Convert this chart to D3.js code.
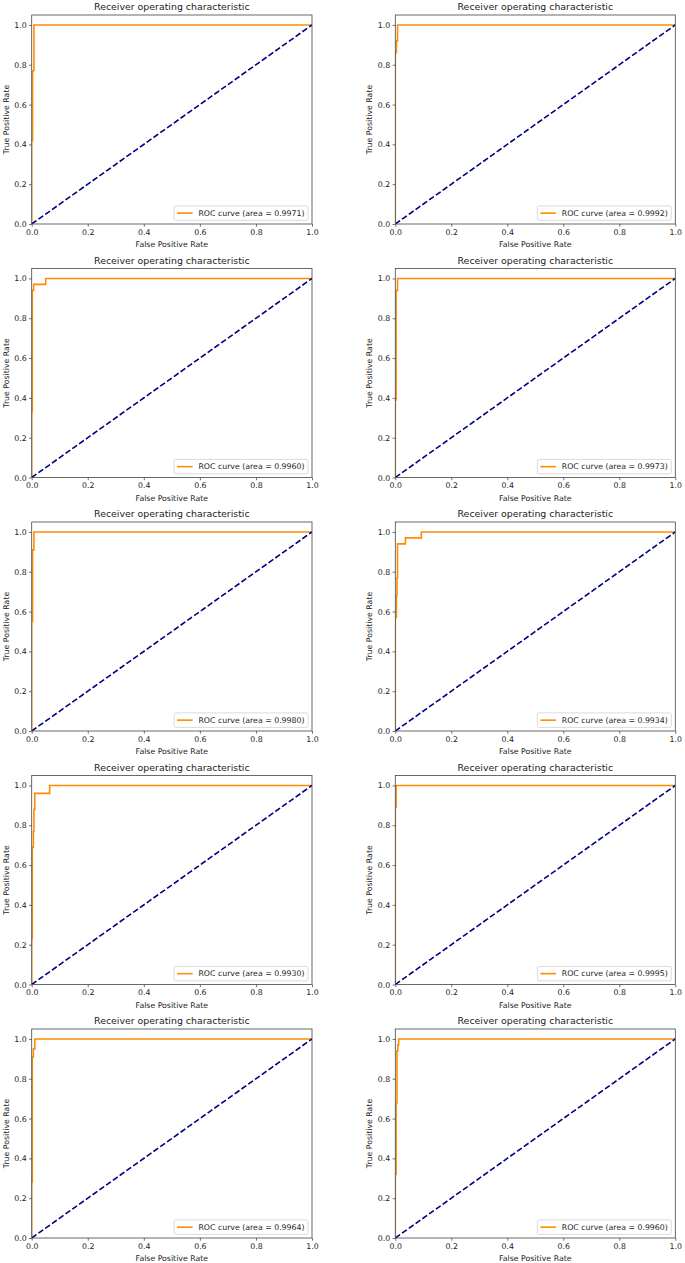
<!DOCTYPE html>
<html>
<head>
<meta charset="utf-8">
<script src="https://cdn.jsdelivr.net/npm/d3@7"></script>
<style>
  html, body { margin: 0; padding: 0; background: #fff; }
  svg { display: block; font-family: "DejaVu Sans", sans-serif; }
</style>
</head>
<body>
<svg id="chart" width="685" height="1263"></svg>
<script>
// ---- data ----
const titleText = "Receiver operating characteristic";
const xLabelText = "False Positive Rate";
const yLabelText = "True Positive Rate";
const tickValues = [0, 0.2, 0.4, 0.6, 0.8, 1.0];
const areas = ["0.9971", "0.9992", "0.9960", "0.9973", "0.9980", "0.9934", "0.9930", "0.9995", "0.9964", "0.9960"];

const fpr1 = [0, 0, 0.003, 0.003, 0.008, 0.008, 1];
const tpr1 = [0, 0.42, 0.42, 0.77, 0.77, 1, 1];
const fpr2 = [0, 0, 0.004, 0.004, 0.008, 0.008, 1];
const tpr2 = [0, 0.86, 0.86, 0.92, 0.92, 1, 1];
const fpr3 = [0, 0, 0.002, 0.002, 0.007, 0.007, 0.05, 0.05, 1];
const tpr3 = [0, 0.33, 0.33, 0.94, 0.94, 0.97, 0.97, 1, 1];
const fpr4 = [0, 0, 0.003, 0.003, 0.008, 0.008, 1];
const tpr4 = [0, 0.39, 0.39, 0.94, 0.94, 1, 1];
const fpr5 = [0, 0, 0.003, 0.003, 0.008, 0.008, 1];
const tpr5 = [0, 0.55, 0.55, 0.91, 0.91, 1, 1];
const fpr6 = [0, 0, 0.004, 0.004, 0.006, 0.006, 0.008, 0.008, 0.036, 0.036, 0.093, 0.093, 1];
const tpr6 = [0, 0.57, 0.57, 0.68, 0.68, 0.77, 0.77, 0.94, 0.94, 0.97, 0.97, 1, 1];
const fpr7 = [0, 0, 0.002, 0.002, 0.006, 0.006, 0.008, 0.008, 0.011, 0.011, 0.064, 0.064, 1];
const tpr7 = [0, 0.23, 0.23, 0.69, 0.69, 0.77, 0.77, 0.88, 0.88, 0.96, 0.96, 1, 1];
const fpr8 = [0, 0, 0.003, 0.003, 1];
const tpr8 = [0, 0.89, 0.89, 1, 1];
const fpr9 = [0, 0, 0.002, 0.002, 0.006, 0.006, 0.011, 0.011, 1];
const tpr9 = [0, 0.28, 0.28, 0.91, 0.91, 0.95, 0.95, 1, 1];
const fpr10 = [0, 0, 0.003, 0.003, 0.006, 0.006, 0.009, 0.009, 0.012, 0.012, 1];
const tpr10 = [0, 0.32, 0.32, 0.68, 0.68, 0.94, 0.94, 0.97, 0.97, 1, 1];

const fprList = [fpr1, fpr2, fpr3, fpr4, fpr5, fpr6, fpr7, fpr8, fpr9, fpr10];
const tprList = [tpr1, tpr2, tpr3, tpr4, tpr5, tpr6, tpr7, tpr8, tpr9, tpr10];
const diagonal = [[0, 0], [1, 1]];

// ---- layout ----
const svg = d3.select("#chart");
const colX = [[31.7, 312], [395.3, 675.3]];
const rowTop0 = 15, rowBottom0 = 224, rowStep = 253.5;
const tickFont = 7.8, titleFont = 9.4;

areas.forEach((area, i) => {
  const col = i % 2, row = Math.floor(i / 2);
  const [x0, x1] = colX[col];
  const top = rowTop0 + row * rowStep, bottom = rowBottom0 + row * rowStep;
  const x = d3.scaleLinear().domain([0, 1]).range([x0, x1]);
  const y = d3.scaleLinear().domain([0, 1.05]).range([bottom, top]);

  const g = svg.append("g");
  const clipId = "clip" + i;
  g.append("clipPath").attr("id", clipId).append("rect")
    .attr("x", x0).attr("y", top).attr("width", x1 - x0).attr("height", bottom - top);

  const line = d3.line().x(d => x(d[0])).y(d => y(d[1]));
  const pts = fprList[i].map((f, k) => [f, tprList[i][k]]);

  const plot = g.append("g").attr("clip-path", `url(#${clipId})`);
  plot.append("path").attr("d", line(pts))
    .attr("fill", "none").attr("stroke", "#ff8c00").attr("stroke-width", 1.6)
    .attr("stroke-linejoin", "miter");
  plot.append("path").attr("d", line(diagonal))
    .attr("fill", "none").attr("stroke", "#000080").attr("stroke-width", 1.6)
    .attr("stroke-dasharray", "5.8,2.5");

  // axes
  const xAxis = d3.axisBottom(x).tickValues(tickValues).tickFormat(d3.format(".1f"))
    .tickSize(2.7).tickPadding(2.4);
  const yAxis = d3.axisLeft(y).tickValues(tickValues).tickFormat(d3.format(".1f"))
    .tickSize(2.7).tickPadding(2.4);
  const gx = g.append("g").attr("transform", `translate(0,${bottom})`).call(xAxis);
  const gy = g.append("g").attr("transform", `translate(${x0},0)`).call(yAxis);
  [gx, gy].forEach(a => {
    a.select(".domain").remove();
    a.selectAll("line").attr("stroke", "#333").attr("stroke-width", 0.7);
    a.selectAll("text").attr("font-size", tickFont).attr("fill", "#222")
      .attr("font-family", "DejaVu Sans");
  });

  // frame
  g.append("rect").attr("x", x0).attr("y", top).attr("width", x1 - x0).attr("height", bottom - top)
    .attr("fill", "none").attr("stroke", "#444").attr("stroke-width", 0.8);

  // title and labels
  g.append("text").attr("x", (x0 + x1) / 2).attr("y", top - 4.6)
    .attr("text-anchor", "middle").attr("font-size", titleFont).attr("fill", "#222")
    .text(titleText);
  g.append("text").attr("x", (x0 + x1) / 2).attr("y", bottom + 23)
    .attr("text-anchor", "middle").attr("font-size", tickFont).attr("fill", "#222")
    .text(xLabelText);
  g.append("text")
    .attr("transform", `translate(${x0 - 23},${(top + bottom) / 2}) rotate(-90)`)
    .attr("text-anchor", "middle").attr("font-size", tickFont).attr("fill", "#222")
    .text(yLabelText);

  // legend
  const lg = g.append("g");
  const label = lg.append("text").attr("font-size", tickFont).attr("fill", "#222")
    .text(`ROC curve (area = ${area})`);
  const tw = label.node().getComputedTextLength();
  const boxW = 3 + 15.6 + 5.8 + tw + 3.5;
  const boxH = 14.5;
  const bx = x1 - 4 - boxW, by = bottom - 3.6 - boxH;
  lg.insert("rect", "text").attr("x", bx).attr("y", by).attr("width", boxW).attr("height", boxH)
    .attr("rx", 1.8).attr("fill", "#fff").attr("fill-opacity", 0.8)
    .attr("stroke", "#ccc").attr("stroke-width", 0.7);
  lg.insert("line", "text").attr("x1", bx + 3).attr("x2", bx + 18.6)
    .attr("y1", by + boxH / 2).attr("y2", by + boxH / 2)
    .attr("stroke", "#ff8c00").attr("stroke-width", 1.6);
  label.attr("x", bx + 3 + 15.6 + 5.8).attr("y", by + boxH / 2 + 2.8);
});
</script>
</body>
</html>
